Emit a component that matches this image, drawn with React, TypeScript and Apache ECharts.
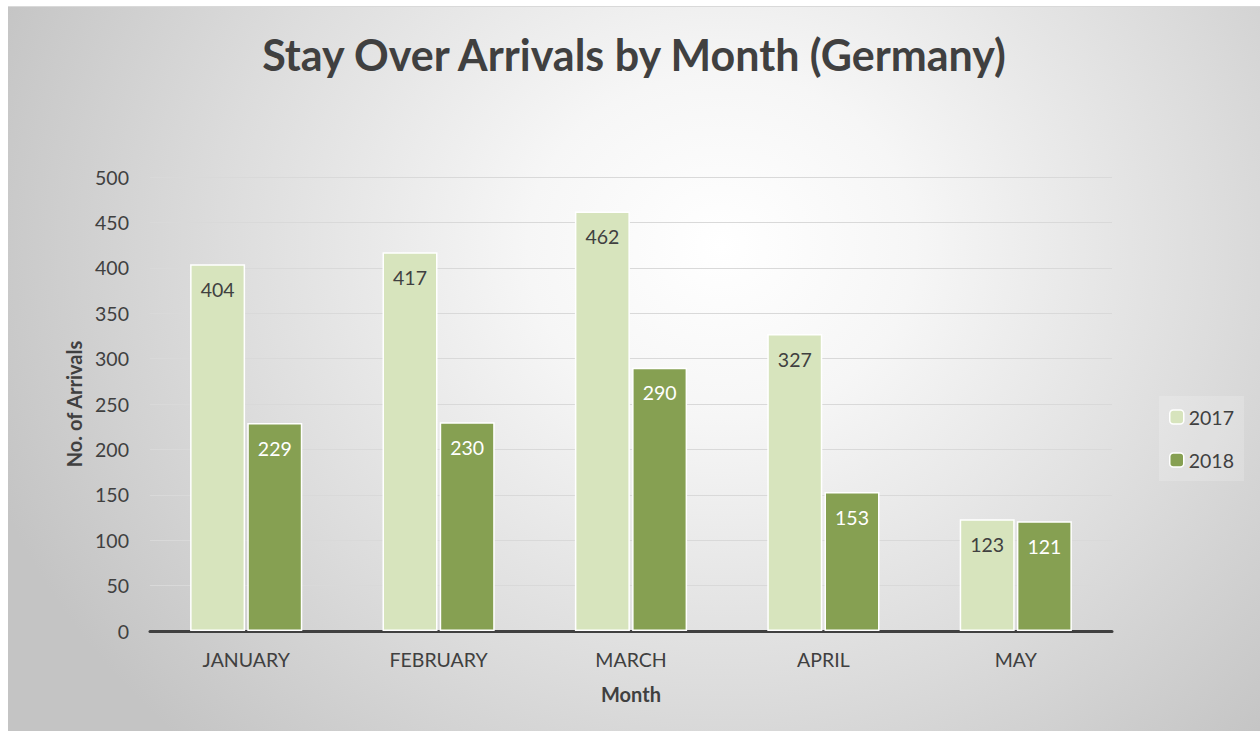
import React, { useEffect, useRef } from "react";
import * as echarts from "echarts";

const months = ["JANUARY", "FEBRUARY", "MARCH", "APRIL", "MAY"];
const arrivals2017 = [404, 417, 462, 327, 123];
const arrivals2018 = [229, 230, 290, 153, 121];
const yTicks = { min: 0, max: 500, interval: 50 };

const FONT = "Lato, 'Open Sans', sans-serif";
const TXT = "#404040";

export default function App() {
  const ref = useRef<HTMLDivElement>(null);
  useEffect(() => {
    if (!ref.current) return;
    const chart = echarts.init(ref.current, undefined, { renderer: "svg" });
    chart.setOption({
      animation: false,
      backgroundColor: "transparent",
      textStyle: { fontFamily: FONT },
      title: {
        text: "Stay Over Arrivals by Month (Germany)",
        left: "center",
        top: 21,
        textStyle: { fontSize: 43, fontWeight: "bold", color: TXT, fontFamily: FONT },
      },
      legend: {
        orient: "vertical",
        left: 1151,
        top: 389,
        padding: [11, 10, 11, 10],
        itemWidth: 14,
        itemHeight: 14,
        itemGap: 23,
        backgroundColor: "rgba(255,255,255,0.18)",
        textStyle: { fontSize: 19.5, color: TXT, fontFamily: FONT },
        data: [
          { name: "2017", itemStyle: { borderColor: "#ffffff", borderWidth: 1.5 } },
          { name: "2018", itemStyle: { borderColor: "#ffffff", borderWidth: 1.5 } },
        ],
      },
      grid: { left: 142, right: 148, top: 170, bottom: 100 },
      xAxis: {
        type: "category",
        data: months,
        name: "Month",
        nameLocation: "middle",
        nameGap: 53,
        nameTextStyle: { fontSize: 20, fontWeight: "bold", color: TXT, fontFamily: FONT },
        axisLine: { lineStyle: { color: TXT, width: 3 } },
        axisTick: { show: false },
        axisLabel: { fontSize: 19.5, color: TXT, margin: 18, fontFamily: FONT },
      },
      yAxis: {
        type: "value",
        min: yTicks.min,
        max: yTicks.max,
        interval: yTicks.interval,
        name: "No. of Arrivals",
        nameLocation: "middle",
        nameGap: 66,
        nameTextStyle: { fontSize: 20, fontWeight: "bold", color: TXT, fontFamily: FONT },
        axisLine: { show: false },
        axisTick: { show: false },
        axisLabel: { fontSize: 19.5, color: TXT, margin: 21, fontFamily: FONT },
        splitLine: { lineStyle: { color: "#d9d9d9", width: 1 } },
      },
      series: [
        {
          name: "2017",
          type: "bar",
          data: arrivals2017,
          barWidth: 55,
          barGap: "4%",
          itemStyle: { color: "#d7e4bd", borderColor: "#ffffff", borderWidth: 1.5 },
          label: {
            show: true,
            position: "insideTop",
            distance: 15,
            fontSize: 19.5,
            color: TXT,
            fontFamily: FONT,
          },
        },
        {
          name: "2018",
          type: "bar",
          data: arrivals2018,
          barWidth: 55,
          barGap: "4%",
          itemStyle: { color: "#86a052", borderColor: "#ffffff", borderWidth: 1.5 },
          label: {
            show: true,
            position: "insideTop",
            distance: 15,
            fontSize: 19.5,
            color: "#ffffff",
            fontFamily: FONT,
          },
        },
      ],
    });
    return () => chart.dispose();
  }, []);

  return (
    <div
      style={{
        position: "absolute",
        left: 8,
        top: 6,
        width: 1252,
        height: 725,
        borderTop: "1px solid #d9d9d9",
        boxSizing: "border-box",
        background:
          "radial-gradient(ellipse 62% 95% at 57% 33%, #ffffff 0%, #f6f6f6 25%, #dcdcdc 65%, #c4c4c4 100%)",
      }}
    >
      <div ref={ref} style={{ width: 1252, height: 724 }} />
    </div>
  );
}
